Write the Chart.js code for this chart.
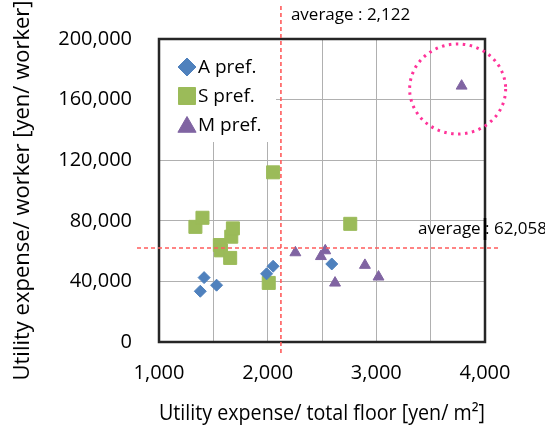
<!DOCTYPE html>
<html>
<head>
<meta charset="utf-8">
<script src="https://cdn.jsdelivr.net/npm/chart.js@4.4.1/dist/chart.umd.min.js"></script>
<style>
  html, body { margin: 0; padding: 0; background: #fff; }
  #wrap { width: 545px; height: 430px; position: relative; }
</style>
</head>
<body>
<div id="wrap"><canvas id="chart"></canvas></div>
<script>
// values
const aPref = [
  { x: 1380, y: 33500 }, { x: 1415, y: 42500 }, { x: 1530, y: 37500 },
  { x: 1990, y: 45000 }, { x: 2050, y: 50000 }, { x: 2590, y: 51500 }
];
const sPref = [
  { x: 1335, y: 76000 }, { x: 1400, y: 82000 }, { x: 1560, y: 64000 },
  { x: 1570, y: 60500 }, { x: 1655, y: 55500 }, { x: 1665, y: 69500 },
  { x: 1680, y: 75000 }, { x: 2010, y: 39000 }, { x: 2050, y: 112000 },
  { x: 2760, y: 78000 }
];
const mPref = [
  { x: 2255, y: 59000 }, { x: 2490, y: 56500 }, { x: 2530, y: 60300 },
  { x: 2620, y: 39000 }, { x: 2895, y: 50700 }, { x: 3020, y: 43000 },
  { x: 3785, y: 169000 }
];
const seriesNames = ["A pref.", "S pref.", "M pref."];
const avgX = 2122;
const avgY = 62058;
const xTickLabels = [1000, 2000, 3000, 4000];

const FONT = "Open Sans";
const fmt = v => v.toLocaleString("en-US");

// frame, averages, circle and legend
const extras = {
  id: "extras",
  beforeDatasetsDraw(chart) {
    const ctx = chart.ctx;
    const a = chart.chartArea;
    ctx.save();
    // legend box hides the grid behind it
    ctx.fillStyle = "#fff";
    ctx.fillRect(a.left + 1, a.top + 1, 116, 102);
    const markers = [
      { style: "rectRot", color: "#4f81bd", r: 9 },
      { style: "rect", color: "#9bbb59", r: 12 },
      { style: "triangle", color: "#8064a2", r: 10.5 }
    ];
    ctx.font = "19px '" + FONT + "'";
    ctx.textBaseline = "middle";
    markers.forEach((m, i) => {
      const y = a.top + 28 + i * 29;
      ctx.fillStyle = m.color;
      ctx.strokeStyle = m.color;
      ctx.lineWidth = 1;
      Chart.helpers.drawPoint(ctx, { pointStyle: m.style, radius: m.r, borderWidth: 1 }, a.left + 28, m.style === "triangle" ? y + 2 : y);
      ctx.fillStyle = "#000";
      ctx.fillText(seriesNames[i], a.left + 39, y + 1);
    });
    ctx.restore();
  },
  afterDatasetsDraw(chart) {
    const ctx = chart.ctx;
    const a = chart.chartArea;
    const xs = chart.scales.x, ys = chart.scales.y;
    ctx.save();
    // plot frame
    ctx.strokeStyle = "#262626";
    ctx.lineWidth = 2.5;
    ctx.strokeRect(a.left, a.top, a.right - a.left, a.bottom - a.top);

    // average lines
    const px = xs.getPixelForValue(avgX);
    const py = ys.getPixelForValue(avgY);
    ctx.strokeStyle = "#ff5c5c";
    ctx.lineWidth = 1.6;
    ctx.setLineDash([4, 3]);
    ctx.beginPath();
    ctx.moveTo(px, 6);
    ctx.lineTo(px, 356);
    ctx.moveTo(a.left - 22, py);
    ctx.lineTo(a.right + 13, py);
    ctx.stroke();
    ctx.setLineDash([]);

    ctx.fillStyle = "#000";
    ctx.font = "17px '" + FONT + "'";
    ctx.textBaseline = "middle";
    ctx.textAlign = "left";
    ctx.fillText("average : " + fmt(avgX), px + 10, 15);
    ctx.fillText("average : " + fmt(avgY), a.right - 67, py - 19);
    // frame line runs over the label like in the source
    ctx.strokeStyle = "#000";
    ctx.lineWidth = 2.5;
    ctx.beginPath();
    ctx.moveTo(a.right, py - 30);
    ctx.lineTo(a.right, py - 8);
    ctx.stroke();

    // dotted ring round the outlier
    const o = mPref[mPref.length - 1];
    const ox = xs.getPixelForValue(o.x) - 4;
    const oy = ys.getPixelForValue(o.y) + 3;
    ctx.strokeStyle = "#ff3399";
    ctx.lineWidth = 3;
    ctx.setLineDash([2.5, 4.5]);
    ctx.beginPath();
    ctx.ellipse(ox, oy, 48, 45, 0, 0, Math.PI * 2);
    ctx.stroke();
    ctx.restore();
  }
};

new Chart(document.getElementById("chart"), {
  type: "scatter",
  data: {
    datasets: [
      { label: seriesNames[0], data: aPref, pointStyle: "rectRot", pointRadius: 6,
        backgroundColor: "#4f81bd", borderColor: "#4f81bd", borderWidth: 1 },
      { label: seriesNames[1], data: sPref, pointStyle: "rect", pointRadius: 9.2,
        backgroundColor: "#9bbb59", borderColor: "#9bbb59", borderWidth: 1 },
      { label: seriesNames[2], data: mPref, pointStyle: "triangle", pointRadius: 6.3,
        backgroundColor: "#8064a2", borderColor: "#8064a2", borderWidth: 1 }
    ]
  },
  options: {
    responsive: true,
    maintainAspectRatio: false,
    animation: false,
    layout: { padding: { left: 0, top: 37, right: 60, bottom: 0 } },
    plugins: {
      legend: { display: false },
      tooltip: { enabled: false }
    },
    scales: {
      x: {
        type: "linear",
        min: 1000, max: 4000,
        afterFit(s) { s.height = 88; },
        grid: { color: "#b0b0b0", drawTicks: false },
        border: { display: false },
        ticks: {
          stepSize: 500,
          padding: 19,
          maxRotation: 0,
          minRotation: 0,
          autoSkip: false,
          color: "#000",
          font: { family: FONT, size: 20 },
          callback: v => xTickLabels.includes(v) ? fmt(v) : ""
        },
        title: {
          display: true,
          text: "Utility expense/ total floor [yen/ m\u00b2]",
          color: "#000",
          font: { family: FONT, size: 22 },
          padding: { top: 0, bottom: 3 }
        }
      },
      y: {
        type: "linear",
        min: 0, max: 200000,
        afterFit(s) { s.width = 159; },
        grid: { color: "#b0b0b0", drawTicks: false },
        border: { display: false },
        ticks: {
          stepSize: 40000,
          padding: 27,
          color: "#000",
          font: { family: FONT, size: 20 },
          callback: v => fmt(v)
        },
        title: {
          display: true,
          text: "Utility expense/ worker [yen/ worker]",
          color: "#000",
          font: { family: FONT, size: 22 },
          padding: { top: 10, bottom: 0 }
        }
      }
    }
  },
  plugins: [extras]
});
</script>
</body>
</html>
